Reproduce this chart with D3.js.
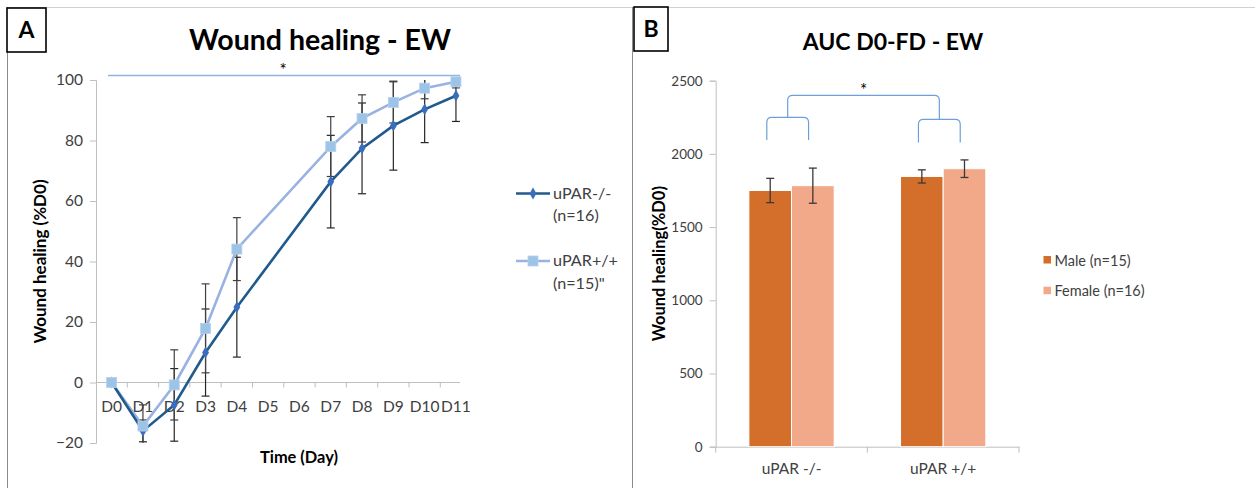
<!DOCTYPE html>
<html><head><meta charset="utf-8">
<script src="https://cdn.jsdelivr.net/npm/d3@7"></script>
<style>
body{margin:0;background:#fff;}
svg{display:block;font-family:Lato,"Open Sans",sans-serif;}
</style></head>
<body>
<svg id="c" width="1255" height="488"></svg>
<script>
// ---------- Data: panel A ----------
const days = ["D0","D1","D2","D3","D4","D5","D6","D7","D8","D9","D10","D11"];
const koMean = [0,-16,-7.4,9.9,24.9,null,null,66.4,77.4,84.9,90.3,94.8];
const koErr  = [0,3.6,12,14.4,16.5,null,null,15.3,15,14.7,11,8.5];
const wtMean = [0,-14.4,-0.8,17.9,44.1,null,null,78,87.3,92.6,97.3,99.4];
const wtErr  = [0,7,11.6,14.7,10.4,null,null,9.9,7.8,6.8,3.5,2];
const seriesANames = [["uPAR-/-","(n=16)"],["uPAR+/+","(n=15)\""]];
const yTicksA = [-20,0,20,40,60,80,100];

// ---------- Data: panel B ----------
const groups = ["uPAR -/-","uPAR +/+"];
const sexes = ["Male (n=15)","Female (n=16)"];
const maleAUC = [1750,1846];
const maleErr = [83,45];
const femaleAUC = [1783,1899];
const femaleErr = [120,60];
const yTicksB = [0,500,1000,1500,2000,2500];

const svg = d3.select("#c");
const txt = "#404040";

// ---------- Panel frames ----------
svg.append("line").attr("x1",7).attr("x2",1255).attr("y1",7.5).attr("y2",7.5).attr("stroke","#d0d0d0");
svg.append("line").attr("x1",7.5).attr("x2",7.5).attr("y1",7).attr("y2",488).attr("stroke","#8c8c8c");
svg.append("line").attr("x1",632.5).attr("x2",632.5).attr("y1",7).attr("y2",488).attr("stroke","#8c8c8c");
function labelBox(x,y,w,h,t){
  svg.append("rect").attr("x",x).attr("y",y).attr("width",w).attr("height",h)
    .attr("fill","#fff").attr("stroke","#000").attr("stroke-width",1.6);
  svg.append("text").attr("x",x+w/2).attr("y",y+h/2+8).attr("text-anchor","middle")
    .attr("font-weight",700).attr("font-size",23).attr("fill","#000").text(t);
}
labelBox(7,8,39,44,"A");
labelBox(634,7,34,44,"B");

// ================= PANEL A =================
const xA = d3.scaleBand().domain(days).range([96,96+31.3*12]).padding(0);
const cx = d => xA(d)+xA.bandwidth()/2;
const yA = d3.scaleLinear().domain([-20,100]).range([443,80]);

svg.append("text").attr("x",320).attr("y",50).attr("text-anchor","middle")
  .attr("font-weight",700).attr("font-size",28.5).attr("fill","#000").text("Wound healing - EW");

// y axis
const gyA = svg.append("g").attr("transform","translate(96,0)")
  .call(d3.axisLeft(yA).tickValues(yTicksA).tickSize(6).tickPadding(7));
gyA.select(".domain").attr("stroke","#bfbfbf");
gyA.selectAll(".tick line").attr("stroke","#bfbfbf");
gyA.selectAll(".tick text").attr("font-size",15.5).attr("fill",txt).attr("font-family","Lato");

// x axis at y=0
const x0 = yA(0);
svg.append("line").attr("x1",96).attr("x2",460).attr("y1",x0).attr("y2",x0).attr("stroke","#bfbfbf");
svg.selectAll(".xtA").data(days.slice(1)).join("line")
  .attr("x1",d=>xA(d)).attr("x2",d=>xA(d)).attr("y1",x0).attr("y2",x0+5).attr("stroke","#bfbfbf");
svg.selectAll(".xlA").data(days).join("text")
  .attr("x",d=>cx(d)).attr("y",x0+29).attr("text-anchor","middle")
  .attr("font-size",15.5).attr("fill",txt).text(d=>d);

// axis titles
svg.append("text").attr("x",299).attr("y",463).attr("text-anchor","middle")
  .attr("font-weight",700).attr("font-size",16.4).attr("fill","#000").text("Time (Day)");
svg.append("text").attr("transform",`translate(46,${(yA(-20)+yA(100))/2}) rotate(-90)`)
  .attr("text-anchor","middle").attr("font-weight",700).attr("font-size",17).attr("fill","#000")
  .text("Wound healing (%D0)");

// significance line
svg.append("line").attr("x1",108).attr("x2",460).attr("y1",75.5).attr("y2",75.5)
  .attr("stroke","#8fb4e3").attr("stroke-width",1.3);
svg.append("text").attr("x",283).attr("y",76).attr("text-anchor","middle")
  .attr("font-size",17).attr("fill","#000").text("*");

// clip
svg.append("clipPath").attr("id","clipA").append("rect")
  .attr("x",90).attr("y",yA(100)).attr("width",380).attr("height",yA(-20)-yA(100));

const plotA = svg.append("g").attr("clip-path","url(#clipA)");
function rows(m,e){ return days.map((d,i)=>({d, v:m[i], e:e[i]})).filter(r=>r.v!==null); }
const koRows = rows(koMean,koErr), wtRows = rows(wtMean,wtErr);

function errBars(rs,color){
  const g = plotA.append("g").attr("stroke",color).attr("stroke-width",1.2);
  rs.filter(r=>r.e>0).forEach(r=>{
    const x = cx(r.d);
    g.append("line").attr("x1",x).attr("x2",x).attr("y1",yA(r.v+r.e)).attr("y2",yA(r.v-r.e));
    g.append("line").attr("x1",x-4).attr("x2",x+4).attr("y1",yA(r.v+r.e)).attr("y2",yA(r.v+r.e));
    g.append("line").attr("x1",x-4).attr("x2",x+4).attr("y1",yA(r.v-r.e)).attr("y2",yA(r.v-r.e));
  });
}
errBars(koRows,"#262626");
errBars(wtRows,"#404040");

const line = d3.line().x(r=>cx(r.d)).y(r=>yA(r.v));
const koLine = "#215a8c", koMark="#3a6dbd", wtLine="#98b2e2", wtMark="#9dc3e6";
svg.append("path").datum(wtRows).attr("d",line).attr("fill","none").attr("stroke",wtLine).attr("stroke-width",2.6);
svg.append("path").datum(koRows).attr("d",line).attr("fill","none").attr("stroke",koLine).attr("stroke-width",2.6);
const diamond = d3.symbol().type(d3.symbolDiamond).size(40);
svg.selectAll(".ko").data(koRows).join("path")
  .attr("transform",r=>`translate(${cx(r.d)},${yA(r.v)})`).attr("d",diamond).attr("fill",koMark);
svg.selectAll(".wt").data(wtRows).join("rect")
  .attr("x",r=>cx(r.d)-5).attr("y",r=>yA(r.v)-5).attr("width",10).attr("height",10)
  .attr("fill",wtMark).attr("stroke","#b4d1ee").attr("stroke-width",0.8);

// legend A
const legA = [{ly:193.5, c:koLine, m:"d"},{ly:261, c:wtLine, m:"s"}];
legA.forEach((L,i)=>{
  svg.append("line").attr("x1",516).attr("x2",550).attr("y1",L.ly).attr("y2",L.ly).attr("stroke",L.c).attr("stroke-width",2.6);
  if(L.m==="d") svg.append("path").attr("transform",`translate(533,${L.ly})`).attr("d",diamond).attr("fill",koMark);
  else svg.append("rect").attr("x",528).attr("y",L.ly-5).attr("width",10).attr("height",10).attr("fill",wtMark).attr("stroke","#b4d1ee").attr("stroke-width",0.8);
  svg.append("text").attr("x",553).attr("y",L.ly+5).attr("font-size",16.2).attr("fill",txt).text(seriesANames[i][0]);
  svg.append("text").attr("x",553).attr("y",L.ly+27.5).attr("font-size",16.2).attr("fill",txt).text(seriesANames[i][1]);
});

// ================= PANEL B =================
const xB = d3.scaleBand().domain(groups).range([715.7,1019]).paddingInner(0.4377).paddingOuter(0.4377/2);
const xSub = d3.scaleBand().domain(sexes).range([0,xB.bandwidth()]).padding(0);
const yB = d3.scaleLinear().domain([0,2500]).range([446.7,80.7]);

svg.append("text").attr("x",893).attr("y",50).attr("text-anchor","middle")
  .attr("font-weight",700).attr("font-size",23).attr("fill","#000").text("AUC D0-FD - EW");

const gyB = svg.append("g").attr("transform","translate(715.7,0)")
  .call(d3.axisLeft(yB).tickValues(yTicksB).tickFormat(d3.format("d")).tickSize(6).tickPadding(7));
gyB.select(".domain").attr("stroke","#bfbfbf");
gyB.selectAll(".tick line").attr("stroke","#bfbfbf");
gyB.selectAll(".tick text").attr("font-size",13.5).attr("fill",txt).attr("font-family","Lato");

const gxB = svg.append("g").attr("transform",`translate(0,${yB(0)})`)
  .call(d3.axisBottom(xB).tickSize(0).tickPadding(16));
gxB.select(".domain").attr("stroke","#bfbfbf");
gxB.selectAll(".tick text").attr("font-size",15.5).attr("fill",txt).attr("font-family","Lato");
const bounds = [xB.range()[0], (xB.range()[0]+xB.range()[1])/2, xB.range()[1]];
svg.selectAll(".xtB").data(bounds).join("line")
  .attr("x1",d=>d).attr("x2",d=>d).attr("y1",yB(0)).attr("y2",yB(0)+6).attr("stroke","#bfbfbf");

svg.append("text").attr("transform",`translate(665,${(yB(0)+yB(2500))/2}) rotate(-90)`)
  .attr("text-anchor","middle").attr("font-weight",700).attr("font-size",16.5).attr("fill","#000")
  .text("Wound healing(%D0)");

const barColors = ["#d36e2b","#f1a98a"];
const barRows = [];
groups.forEach((g,i)=>{
  barRows.push({g, s:sexes[0], v:maleAUC[i], e:maleErr[i], c:barColors[0]});
  barRows.push({g, s:sexes[1], v:femaleAUC[i], e:femaleErr[i], c:barColors[1]});
});
svg.selectAll(".bar").data(barRows).join("rect")
  .attr("x",r=>xB(r.g)+xSub(r.s)).attr("width",xSub.bandwidth())
  .attr("y",r=>yB(r.v)).attr("height",r=>yB(0)-yB(r.v))
  .attr("fill",r=>r.c).attr("stroke","#fff").attr("stroke-width",1);
const eb = svg.append("g").attr("stroke","#3a3a3a").attr("stroke-width",1.3);
barRows.forEach(r=>{
  const x = xB(r.g)+xSub(r.s)+xSub.bandwidth()/2;
  eb.append("line").attr("x1",x).attr("x2",x).attr("y1",yB(r.v+r.e)).attr("y2",yB(r.v-r.e));
  [r.v+r.e, r.v-r.e].forEach(v=>eb.append("line").attr("x1",x-4).attr("x2",x+4).attr("y1",yB(v)).attr("y2",yB(v)));
});

// brackets
function bracket(xa,xb,yTop,yLeg){
  const r = 5;
  return `M${xa},${yLeg} L${xa},${yTop+r} Q${xa},${yTop} ${xa+r},${yTop} L${xb-r},${yTop} Q${xb},${yTop} ${xb},${yTop+r} L${xb},${yLeg}`;
}
const bc = "#6e9fd9";
const bw = xB.bandwidth();
const small = [
  {g:groups[0], top:2250, leg:2095},
  {g:groups[1], top:2236, leg:2078}
];
const mids = [];
small.forEach(s=>{
  const xa = xB(s.g)+bw*0.21, xb = xB(s.g)+bw*0.70;
  mids.push((xa+xb)/2);
  svg.append("path").attr("d",bracket(xa,xb,yB(s.top),yB(s.leg))).attr("fill","none").attr("stroke",bc).attr("stroke-width",1.2);
});
svg.append("path").attr("d",`M${mids[0]},${yB(small[0].top)} L${mids[0]},${yB(2400)+5} Q${mids[0]},${yB(2400)} ${mids[0]+5},${yB(2400)} L${mids[1]-5},${yB(2400)} Q${mids[1]},${yB(2400)} ${mids[1]},${yB(2400)+5} L${mids[1]},${yB(small[1].top)}`)
  .attr("fill","none").attr("stroke",bc).attr("stroke-width",1.2);
svg.append("text").attr("x",(mids[0]+mids[1])/2).attr("y",yB(2400)+1).attr("text-anchor","middle")
  .attr("font-size",17).attr("fill","#000").text("*");

// legend B
sexes.forEach((s,i)=>{
  const ly = 260 + i*30.7;
  svg.append("rect").attr("x",1043.5).attr("y",ly-4).attr("width",7.5).attr("height",7.5).attr("fill",barColors[i]);
  svg.append("text").attr("x",1054.5).attr("y",ly+5.5).attr("font-size",14.5).attr("fill",txt).text(s);
});
</script>
</body></html>
